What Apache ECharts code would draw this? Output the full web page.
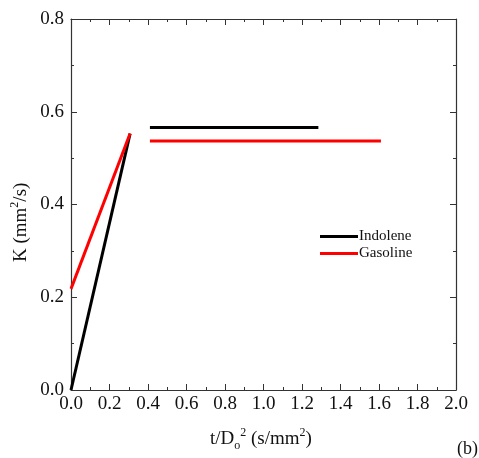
<!DOCTYPE html>
<html>
<head>
<meta charset="utf-8">
<script src="https://cdn.jsdelivr.net/npm/echarts@6/dist/echarts.min.js"></script>
<style>
  html, body { margin: 0; padding: 0; background: #fff; }
  #chart { width: 479px; height: 458px; }
</style>
</head>
<body>
<div id="chart"></div>
<script>
var indoleneRise = [[0.0, 0.0], [0.307, 0.553]];
var indoleneFlat = [[0.41, 0.566], [1.285, 0.566]];
var gasolineRise = [[0.0, 0.218], [0.307, 0.553]];
var gasolineFlat = [[0.41, 0.537], [1.61, 0.537]];

var font = 'Liberation Serif';
var chart = echarts.init(document.getElementById('chart'));

function axisBase(show) {
    return {
        type: 'value',
        axisLine: { show: true, onZero: false, lineStyle: { color: '#333', width: 1.2 } },
        axisTick: { show: true, inside: true, length: 6, lineStyle: { color: '#333' } },
        minorTick: { show: true, splitNumber: 2, length: 3, lineStyle: { color: '#333' } },
        splitLine: { show: false },
        axisLabel: { show: show, color: '#111', fontFamily: font, fontSize: 19 }
    };
}

var xBottom = Object.assign(axisBase(true), { min: 0, max: 2, interval: 0.2, position: 'bottom' });
xBottom.axisLabel.formatter = function (v) { return v.toFixed(1); };
xBottom.axisLabel.margin = 5;
var xTop = Object.assign(axisBase(false), { min: 0, max: 2, interval: 0.2, position: 'top' });
var yLeft = Object.assign(axisBase(true), { min: 0, max: 0.8, interval: 0.2, position: 'left' });
yLeft.axisLabel.formatter = function (v) { return v.toFixed(1); };
yLeft.axisLabel.margin = 7;
var yRight = Object.assign(axisBase(false), { min: 0, max: 0.8, interval: 0.2, position: 'right' });

function line(name, color, data) {
    return {
        name: name, type: 'line', data: data, symbol: 'none',
        lineStyle: { color: color, width: 3 }, itemStyle: { color: color },
        xAxisIndex: 0, yAxisIndex: 0, silent: true, animation: false
    };
}

chart.setOption({
    animation: false,
    grid: { left: 71, right: 23, top: 19, bottom: 68 },
    xAxis: [xBottom, xTop],
    yAxis: [yLeft, yRight],
    legend: {
        orient: 'vertical', left: 320, top: 229, padding: 0,
        itemWidth: 38, itemHeight: 3, itemGap: 2,
        icon: 'rect',
        data: ['Indolene', 'Gasoline'],
        textStyle: { fontFamily: font, fontSize: 15, color: '#111', padding: [0, 0, 0, -4] }
    },
    series: [
        line('Indolene', '#000', indoleneRise),
        line('Indolene', '#000', indoleneFlat),
        line('Gasoline', '#f00', gasolineRise),
        line('Gasoline', '#f00', gasolineFlat)
    ],
    graphic: [
        {
            type: 'text', left: 210, top: 427,
            style: {
                text: '{b|t/D}{sub|o}{sup|2}{b| (s/mm}{sup|2}{b|)}',
                rich: {
                    b: { fontFamily: font, fontSize: 19, fill: '#111' },
                    sup: { fontFamily: font, fontSize: 12, fill: '#111', padding: [0, 0, 13, 0] },
                    sub: { fontFamily: font, fontSize: 12, fill: '#111', padding: [12, 0, 0, 0] }
                }
            }
        },
        {
            type: 'text', x: 9, y: 262, rotation: Math.PI / 2,
            style: {
                text: '{b|K (mm}{sup|2}{b|/s)}',
                rich: {
                    b: { fontFamily: font, fontSize: 19, fill: '#111' },
                    sup: { fontFamily: font, fontSize: 12, fill: '#111', padding: [0, 0, 13, 0] }
                }
            }
        },
        {
            type: 'text', left: 457, top: 440,
            style: { text: '(b)', fontFamily: font, fontSize: 18, fill: '#111' }
        }
    ]
});
</script>
</body>
</html>
